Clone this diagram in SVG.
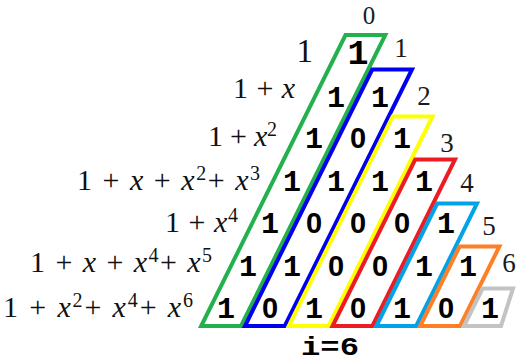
<svg xmlns="http://www.w3.org/2000/svg" width="518" height="362" viewBox="0 0 518 362">
<style>
.cell{fill:none;stroke-width:4;stroke-linejoin:miter;stroke-miterlimit:10}
.d{font-family:"Liberation Mono","DejaVu Sans Mono",monospace;font-weight:bold;font-size:30px;fill:#000;text-anchor:middle}
.z{font-family:"Liberation Sans","DejaVu Sans",sans-serif;font-weight:bold;font-size:29px;fill:#000;text-anchor:middle}
.n{font-family:"Liberation Serif","DejaVu Serif",serif;font-size:27px;fill:#1a1a1a;text-anchor:middle}
.p{font-family:"Liberation Serif","DejaVu Serif",serif;font-size:30px;fill:#111}
.x{font-style:italic}
.s{font-size:20px}
</style>
<rect width="518" height="362" fill="#fff"/>
<g id="connectors">
<polygon id="c0" class="cell" stroke="#22b14c" points="201.2,326 345.5,35 385.3,35 241,326"/>
<polygon id="c1" class="cell" stroke="#0000f0" points="245,326 372.2,69.5 412,69.5 284.8,326"/>
<polygon id="c2" class="cell" stroke="#ffff00" points="288.8,326 392.7,116.5 432.5,116.5 328.6,326"/>
<polygon id="c3" class="cell" stroke="#ed1c24" points="332.6,326 415.2,159.5 455,159.5 372.4,326"/>
<polygon id="c4" class="cell" stroke="#00a2e8" points="376.4,326 437.2,203.5 477,203.5 416.2,326"/>
<polygon id="c5" class="cell" stroke="#ff7f27" points="420.2,326 459.6,246.5 499.4,246.5 460,326"/>
<polygon id="c6" class="cell" stroke="#c3c3c3" points="464,326 482.6,288.5 513,288.5 501,326"/>
</g>
<g id="digits">
<text class="d" style="font-size:35px" x="358" y="64">1</text>
<text class="d" x="336" y="107">1</text><text class="d" x="380" y="107">1</text>
<text class="d" x="314" y="148">1</text><text class="z" x="358" y="148">0</text><text class="d" x="402" y="148">1</text>
<text class="d" x="292" y="191">1</text><text class="d" x="336" y="191">1</text><text class="d" x="380" y="191">1</text><text class="d" x="424" y="191">1</text>
<text class="d" x="270" y="233">1</text><text class="z" x="314" y="233">0</text><text class="z" x="358" y="233">0</text><text class="z" x="402" y="233">0</text><text class="d" x="446" y="233">1</text>
<text class="d" x="248" y="276">1</text><text class="d" x="292" y="276">1</text><text class="z" x="336" y="276">0</text><text class="z" x="380" y="276">0</text><text class="d" x="424" y="276">1</text><text class="d" x="468" y="276">1</text>
<text class="d" x="226" y="318">1</text><text class="z" x="270" y="318">0</text><text class="d" x="314" y="318">1</text><text class="z" x="358" y="318">0</text><text class="d" x="402" y="318">1</text><text class="z" x="446" y="318">0</text><text class="d" x="490" y="318">1</text>
</g>
<g id="indices">
<text class="n" style="font-size:25px" x="369" y="24">0</text>
<text class="n" x="401" y="57">1</text>
<text class="n" x="424" y="105">2</text>
<text class="n" x="447" y="152">3</text>
<text class="n" x="467" y="192">4</text>
<text class="n" x="489" y="235">5</text>
<text class="n" x="509" y="272">6</text>
</g>
<g id="polys">
<text class="p" style="font-size:33px" x="313" y="62" text-anchor="end">1</text>
<text class="p" x="233" y="98" textLength="62" lengthAdjust="spacing">1 + <tspan class="x">x</tspan></text>
<text class="p" x="208" y="146" textLength="69" lengthAdjust="spacing">1 + <tspan class="x">x</tspan><tspan class="s" dy="-10">2</tspan></text>
<text class="p" x="77" y="190" textLength="183" lengthAdjust="spacing">1 + <tspan class="x">x</tspan> + <tspan class="x">x</tspan><tspan class="s" dy="-10">2</tspan><tspan dy="10">+ </tspan><tspan class="x">x</tspan><tspan class="s" dy="-10">3</tspan></text>
<text class="p" x="165" y="232" textLength="73" lengthAdjust="spacing">1 + <tspan class="x">x</tspan><tspan class="s" dy="-10">4</tspan></text>
<text class="p" x="30" y="272" textLength="182" lengthAdjust="spacing">1 + <tspan class="x">x</tspan> + <tspan class="x">x</tspan><tspan class="s" dy="-10">4</tspan><tspan dy="10">+ </tspan><tspan class="x">x</tspan><tspan class="s" dy="-10">5</tspan></text>
<text class="p" x="3" y="317" textLength="190" lengthAdjust="spacing">1 + <tspan class="x">x</tspan><tspan class="s" dy="-10">2</tspan><tspan dy="10">+ </tspan><tspan class="x">x</tspan><tspan class="s" dy="-10">4</tspan><tspan dy="10">+ </tspan><tspan class="x">x</tspan><tspan class="s" dy="-10">6</tspan></text>
</g>
<g id="label-i">
<text class="d" style="font-size:26px" x="330" y="355" textLength="58" lengthAdjust="spacingAndGlyphs" text-anchor="start">i=6</text>
</g>
</svg>
